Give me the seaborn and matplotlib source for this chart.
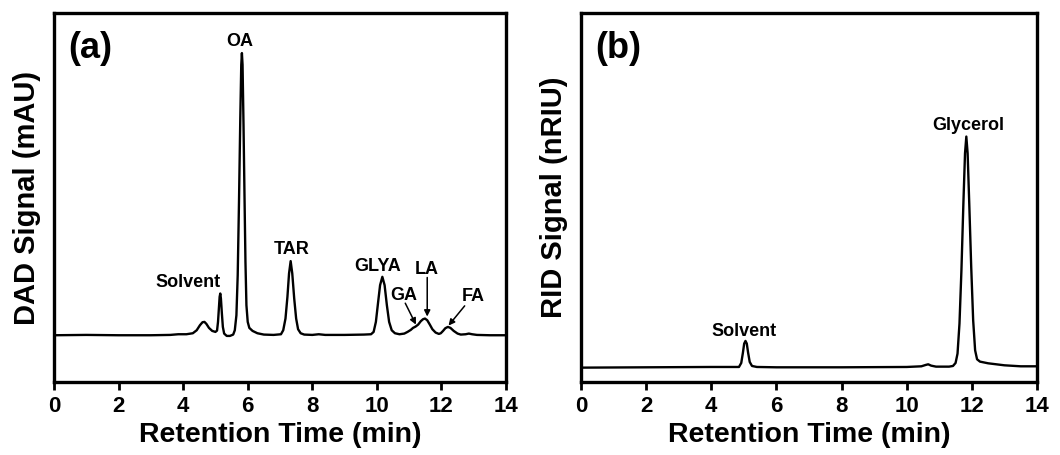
import matplotlib
matplotlib.use("Agg")
import matplotlib.pyplot as plt
import seaborn as sns
import pandas as pd

# ---- traced data (panel a: DAD) ----
a_time = [0.0, 1.0, 2.0, 3.0, 3.6, 3.85, 4.1, 4.3, 4.42, 4.52, 4.60, 4.66, 4.72, 4.80, 4.90, 5.0,
          5.05, 5.08, 5.11, 5.13, 5.15, 5.17, 5.20, 5.23, 5.27, 5.35, 5.45, 5.55, 5.60, 5.65, 5.69,
          5.73, 5.77, 5.80, 5.82, 5.84, 5.87, 5.90, 5.93, 5.96, 6.0, 6.05, 6.15, 6.3, 6.5, 6.8,
          7.03, 7.10, 7.17, 7.23, 7.28, 7.33, 7.38, 7.44, 7.50, 7.56, 7.64, 7.75, 8.0, 8.2, 8.4,
          9.0, 9.6, 9.82, 9.90, 9.97, 10.04, 10.10, 10.17, 10.24, 10.31, 10.38, 10.46, 10.56,
          10.7, 10.85, 10.95, 11.05, 11.12, 11.20, 11.28, 11.36, 11.43, 11.49, 11.56, 11.64,
          11.72, 11.82, 11.92, 11.98, 12.05, 12.12, 12.20, 12.28, 12.38, 12.50, 12.6, 12.75,
          12.85, 12.95, 13.1, 13.5, 14.0]
a_signal = [0.0, 0.1, 0.0, 0.0, 0.1, 0.3, 0.3, 0.6, 1.5, 3.0, 3.9, 4.0, 3.4, 2.2, 1.3, 1.0,
            1.4, 4.0, 8.5, 11.5, 12.5, 11.0, 6.5, 2.5, 0.5, -0.2, -0.2, 0.2, 1.5, 6.0, 18.0,
            40.0, 65.0, 81.0, 84.5, 81.0, 63.0, 42.0, 22.0, 9.0, 4.0, 2.2, 1.3, 0.6, 0.2, 0.1,
            0.3, 1.5, 5.0, 11.5, 18.5, 22.2, 18.5, 11.0, 5.0, 1.8, 0.6, 0.2, 0.1, 0.3, 0.1,
            0.1, 0.2, 0.3, 1.0, 4.0, 10.0, 15.0, 17.5, 15.0, 9.0, 4.0, 1.5, 0.6,
            0.3, 0.5, 1.0, 1.6, 2.2, 2.6, 3.2, 4.2, 4.8, 5.0, 4.5, 3.2,
            1.8, 0.8, 0.4, 0.6, 1.3, 2.1, 2.5, 2.2, 1.3, 0.5, 0.2, 0.3,
            0.5, 0.3, 0.1, 0.0, 0.0]

# ---- traced data (panel b: RID) ----
b_time = [0.0, 2.0, 4.0, 4.85, 4.92, 4.97, 5.01, 5.05, 5.09, 5.13, 5.18, 5.25, 5.4, 6.0, 8.0,
          10.0, 10.45, 10.58, 10.66, 10.75, 10.9, 11.3, 11.42, 11.50, 11.56, 11.62, 11.68,
          11.74, 11.79, 11.83, 11.87, 11.92, 11.98, 12.04, 12.10, 12.16, 12.25, 12.5, 13.0,
          13.5, 14.0]
b_signal = [-0.2, -0.1, 0.0, 0.0, 1.2, 4.2, 7.0, 7.8, 7.0, 4.3, 1.5, 0.3, 0.0, -0.1, -0.1,
            0.0, 0.2, 0.6, 0.8, 0.4, 0.1, 0.1, 0.3, 1.2, 4.0, 13.0, 29.0,
            49.0, 64.0, 69.0, 64.0, 49.0, 30.0, 14.0, 5.0, 2.3, 1.6, 1.1, 0.5,
            0.2, 0.2]

x_ticks = [0, 2, 4, 6, 8, 10, 12, 14]

# peak labels: (text, x, y)
a_labels = ["Solvent", "OA", "TAR", "GLYA", "GA", "LA", "FA"]
a_label_x = [4.15, 5.75, 7.35, 10.02, 10.82, 11.55, 13.0]
a_label_y = [15.8, 88.0, 25.8, 20.5, 11.8, 19.6, 11.6]
# arrows: (start x, start y, end x, end y)
a_arrow_from_x = [10.88, 11.56, 12.72]
a_arrow_from_y = [9.6, 17.3, 8.8]
a_arrow_to_x = [11.21, 11.56, 12.22]
a_arrow_to_y = [3.2, 5.6, 2.9]

b_labels = ["Solvent", "Glycerol"]
b_label_x = [5.02, 11.9]
b_label_y = [10.6, 72.3]

sns.set_theme(style="ticks")
plt.rcParams["font.family"] = ["Liberation Sans", "DejaVu Sans"]
plt.rcParams["font.weight"] = "bold"
plt.rcParams["axes.labelweight"] = "bold"
plt.rcParams["text.color"] = "black"
plt.rcParams["axes.labelcolor"] = "black"
plt.rcParams["xtick.color"] = "black"
plt.rcParams["ytick.color"] = "black"

fig = plt.figure(figsize=(10.6, 4.55), dpi=100)
ax_a = fig.add_axes([54 / 1060, 73 / 455, 452 / 1060, 369 / 455])
ax_b = fig.add_axes([581 / 1060, 73 / 455, 456 / 1060, 369 / 455])

df_a = pd.DataFrame({"t": a_time, "s": a_signal})
df_b = pd.DataFrame({"t": b_time, "s": b_signal})

sns.lineplot(data=df_a, x="t", y="s", ax=ax_a, color="black", lw=1.7, estimator=None, sort=False)
sns.lineplot(data=df_b, x="t", y="s", ax=ax_b, color="black", lw=1.7, estimator=None, sort=False)

ax_a.set_ylim(-14, 96.5)
ax_b.set_ylim(-4.5, 106)

for ax, ylabel, tag in [(ax_a, "DAD Signal (mAU)", "(a)"), (ax_b, "RID Signal (nRIU)", "(b)")]:
    ax.set_xlim(0, 14)
    ax.set_xticks(x_ticks)
    ax.set_xticklabels([str(v) for v in x_ticks])
    ax.set_yticks([])
    ax.tick_params(axis="x", direction="out", length=6, width=2, labelsize=16, pad=4,
                   colors="black")
    for lab in ax.get_xticklabels():
        lab.set_fontweight("bold")
    for sp in ax.spines.values():
        sp.set_visible(True)
        sp.set_linewidth(2.4)
        sp.set_color("black")
    ax.set_xlabel("Retention Time (min)", fontsize=20.5, fontweight="bold", labelpad=4,
                  color="black")
    ax.set_ylabel(ylabel, fontsize=21, fontweight="bold", labelpad=9, color="black")
    ax.text(0.032, 0.905, tag, transform=ax.transAxes, fontsize=26, fontweight="bold",
            ha="left", va="center", color="black")

for txt, x, y in zip(a_labels, a_label_x, a_label_y):
    ax_a.text(x, y, txt, fontsize=13, fontweight="bold", ha="center", va="center",
              color="black")
for x0, y0, x1, y1 in zip(a_arrow_from_x, a_arrow_from_y, a_arrow_to_x, a_arrow_to_y):
    ax_a.annotate("", xy=(x1, y1), xytext=(x0, y0),
                  arrowprops=dict(arrowstyle="-|>", color="black", lw=1.1,
                                  mutation_scale=9, shrinkA=0, shrinkB=0))
for txt, x, y in zip(b_labels, b_label_x, b_label_y):
    ax_b.text(x, y, txt, fontsize=13, fontweight="bold", ha="center", va="center",
              color="black")

fig.savefig("out.png", dpi=100)
